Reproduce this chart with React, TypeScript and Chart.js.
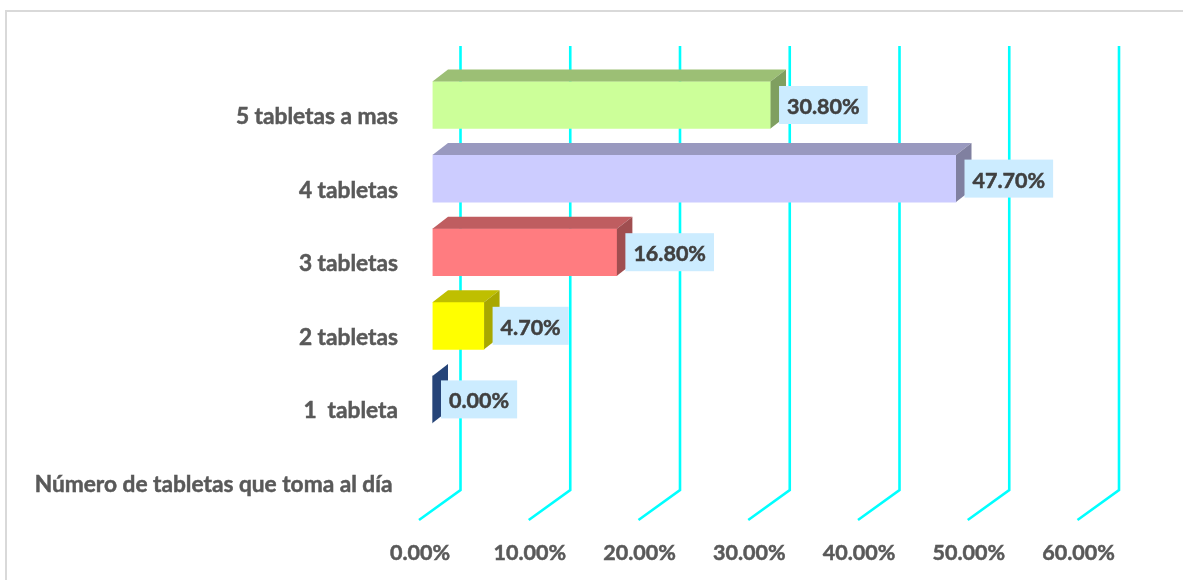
import React, { useEffect, useRef } from "react";
import { Chart, registerables } from "chart.js";

Chart.register(...registerables);

const categories = [
  "5 tabletas a mas",
  "4 tabletas",
  "3 tabletas",
  "2 tabletas",
  "1  tableta",
  "Número de tabletas que toma al día ",
];
const values = [30.8, 47.7, 16.8, 4.7, 0, null];
const xTicks = { min: 0, max: 60, step: 10 };

const frontColors = ["#CCFF99", "#CCCCFF", "#FF7C80", "#FFFF00", "#264478", "#264478"];
const topColors = ["#9CBF75", "#9999BF", "#BF5D60", "#BFBF00", "#264478", "#264478"];
const sideColors = ["#7F9F60", "#8080A0", "#A04E50", "#A8A800", "#264478", "#264478"];

const FONT = "Lato, Carlito, sans-serif";
const NUM_SIZE = 21.5;
const CAT_SIZE = 22.7;
const DEPTH_X = 15.5;
const DEPTH_Y = 12;

const fmt = (v: number) => v.toFixed(2) + "%";

const poly = (ctx: CanvasRenderingContext2D, pts: number[][], color: string) => {
  ctx.beginPath();
  pts.forEach(([x, y], i) => (i ? ctx.lineTo(x, y) : ctx.moveTo(x, y)));
  ctx.closePath();
  ctx.fillStyle = color;
  ctx.fill();
};

const wallPlugin = {
  id: "wall3d",
  beforeDatasetsDraw(chart: any) {
    const { ctx, scales } = chart;
    const x = scales.x;
    ctx.save();
    ctx.strokeStyle = "#00FFFF";
    ctx.lineWidth = 2.6;
    ctx.lineJoin = "miter";
    for (let v = xTicks.min; v <= xTicks.max; v += xTicks.step) {
      const px = x.getPixelForValue(v);
      ctx.beginPath();
      ctx.moveTo(px + 28, 46);
      ctx.lineTo(px + 28, 490);
      ctx.lineTo(px - 13.5, 520);
      ctx.stroke();
    }
    ctx.restore();
  },
};

const barPlugin = {
  id: "bar3d",
  afterDatasetsDraw(chart: any) {
    const { ctx } = chart;
    const meta = chart.getDatasetMeta(0);
    ctx.save();
    meta.data.forEach((bar: any, i: number) => {
      if (values[i] === null) return;
      const top = bar.y - bar.height / 2;
      const bottom = bar.y + bar.height / 2;
      const left = bar.base;
      const right = bar.x;
      poly(ctx, [[left, top], [left + DEPTH_X, top - DEPTH_Y], [right + DEPTH_X, top - DEPTH_Y], [right, top]], topColors[i]);
      poly(ctx, [[right, top], [right + DEPTH_X, top - DEPTH_Y], [right + DEPTH_X, bottom - DEPTH_Y], [right, bottom]], sideColors[i]);
    });
    ctx.font = `bold ${NUM_SIZE}px ${FONT}`;
    ctx.textBaseline = "middle";
    ctx.textAlign = "left";
    meta.data.forEach((bar: any, i: number) => {
      const v = values[i];
      if (v === null) return;
      const label = fmt(v);
      const w = ctx.measureText(label).width;
      const bx = bar.x + 8.5;
      ctx.fillStyle = "#CCECFF";
      ctx.fillRect(bx, bar.y - 19, w + 16, 38);
      ctx.fillStyle = "#404040";
      ctx.strokeStyle = "#404040";
      ctx.lineWidth = 0.5;
      ctx.fillText(label, bx + 8, bar.y + 2);
      ctx.strokeText(label, bx + 8, bar.y + 2);
    });
    ctx.restore();
  },
};

export default function App() {
  const ref = useRef<HTMLCanvasElement>(null);
  useEffect(() => {
    const chart = new Chart(ref.current!, {
      type: "bar",
      data: {
        labels: categories,
        datasets: [
          {
            data: values,
            backgroundColor: frontColors,
            barThickness: 47,
          },
        ],
      },
      plugins: [wallPlugin, barPlugin],
      options: {
        indexAxis: "y",
        responsive: false,
        animation: false,
        layout: { padding: { left: 0, top: 68.2, right: 92, bottom: 0 } },
        plugins: { legend: { display: false }, tooltip: { enabled: false }, title: { display: false } },
        scales: {
          x: {
            min: xTicks.min,
            max: xTicks.max,
            grid: { display: false },
            border: { display: false },
            afterFit: (s: any) => {
              s.height = 70.2;
            },
            ticks: {
              stepSize: xTicks.step,
              callback: (v: any) => fmt(Number(v)),
              color: "#595959",
              textStrokeColor: "#595959",
              textStrokeWidth: 0.5,
              font: { family: FONT, size: NUM_SIZE, weight: "bold" },
              padding: 22,
              labelOffset: -12.5,
              maxRotation: 0,
            },
          },
          y: {
            grid: { display: false },
            border: { display: false },
            afterFit: (s: any) => {
              s.width = 432.5;
            },
            ticks: {
              color: "#595959",
              textStrokeColor: "#595959",
              textStrokeWidth: 0.5,
              font: { family: FONT, size: CAT_SIZE, weight: "bold" },
              padding: 26.5,
              labelOffset: 11.7,
              autoSkip: false,
            },
          },
        },
      } as any,
    });
    return () => chart.destroy();
  }, []);
  return (
    <div style={{ position: "absolute", left: 0, top: 0, width: 1183, height: 580, overflow: "hidden", background: "#fff" }}>
      <div
        style={{
          position: "absolute",
          left: 5,
          top: 10,
          right: 0,
          bottom: 0,
          borderLeft: "2px solid #D9D9D9",
          borderTop: "2px solid #D9D9D9",
        }}
      />
      <canvas ref={ref} width={1183} height={580} style={{ position: "absolute", left: 0, top: 0, display: "block" }} />
    </div>
  );
}
